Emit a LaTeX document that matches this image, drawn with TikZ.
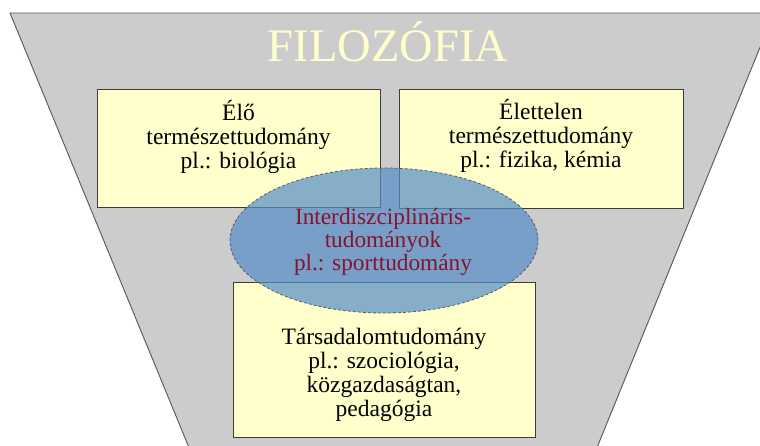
\documentclass[tikz,border=0pt]{standalone}
\usepackage{fontspec}
\setmainfont{Liberation Serif}
\usetikzlibrary{shapes.geometric}
\definecolor{traygray}{RGB}{204,204,204}
\definecolor{trayline}{RGB}{85,85,85}
\definecolor{boxfill}{RGB}{255,255,204}
\definecolor{boxline}{RGB}{60,60,60}
\definecolor{ellfill}{RGB}{84,141,198}
\definecolor{ellline}{RGB}{80,90,110}
\definecolor{ellText}{RGB}{135,20,45}
\definecolor{titlecol}{RGB}{255,255,204}
\begin{document}
\begin{tikzpicture}[x=1pt,y=-1pt,
  tray/.style={fill=traygray,draw=trayline,line width=0.9pt},
  fieldbox/.style={rectangle,fill=boxfill,draw=boxline,line width=0.8pt,inner sep=0pt},
  lbl/.style={align=center,inner sep=0pt,font=\fontsize{23.5pt}{24pt}\selectfont},
  elllbl/.style={align=center,inner sep=0pt,text=ellText,font=\fontsize{23.3pt}{23pt}\selectfont},
  interell/.style={ellipse,fill=ellfill,fill opacity=0.7,draw=ellline,line width=0.8pt,dash pattern=on 3pt off 2pt,inner sep=0pt}
]
\useasboundingbox (0,0) rectangle (760,445);
\clip (0,0) rectangle (760,445);
\coordinate (tl) at (10,13);
\coordinate (tr) at (774,13);
\coordinate (br) at (596,450);
\coordinate (bl) at (190,450);
\draw[tray] (tl) -- (tr) -- (br) -- (bl) -- cycle;
\node[text=titlecol,inner sep=0pt,font=\fontsize{46.5pt}{46pt}\selectfont] (title) at (388,42) {FILOZÓFIA};
\node[fieldbox,minimum width=283pt,minimum height=118pt] (b1) at (238.5,148) {};
\node[fieldbox,minimum width=284pt,minimum height=119pt] (b2) at (541,148.5) {};
\node[fieldbox,minimum width=302pt,minimum height=155pt] (b3) at (384,359.5) {};
\node[lbl] (t1) at (b1.center) [yshift=11.5pt] {Élő\\természettudomány\\pl.: biológia};
\node[lbl] (t2) at (b2.center) [yshift=12.5pt] {Élettelen\\természettudomány\\pl.: fizika, kémia};
\node[lbl] (t3) at (b3.center) [yshift=-15pt] {Társadalomtudomány\\pl.: szociológia,\\közgazdaságtan,\\pedagógia};
\node[interell,minimum width=308pt,minimum height=145pt] (e) at (384,240.5) {};
\node[elllbl] (te) at (383,242) {Interdiszciplináris-\\tudományok\\pl.: sporttudomány};
\end{tikzpicture}
\end{document}
